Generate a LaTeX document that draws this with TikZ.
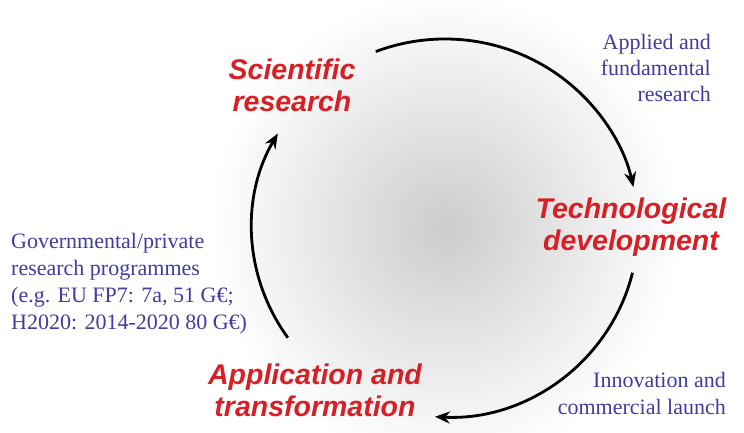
\documentclass[tikz,border=0pt]{standalone}
\usepackage{fontspec}
\setmainfont{Liberation Serif}
\setsansfont{Liberation Sans}
\usetikzlibrary{arrows.meta}
\definecolor{stagered}{RGB}{214,32,38}
\definecolor{noteblue}{RGB}{66,60,160}
\tikzset{
  stage/.style={text=stagered, font=\sffamily\bfseries\itshape\fontsize{28.5}{32}\selectfont, align=center, inner sep=0pt},
  note/.style={text=noteblue, font=\fontsize{22}{26}\selectfont, inner sep=0pt},
  cycle/.style={line width=2.8pt, -{Stealth[length=15pt, width=12pt]}}
}
\begin{document}
\begin{tikzpicture}[x=1pt,y=1pt]
  \useasboundingbox (0,0) rectangle (744,433);
  \fill[white] (0,0) rectangle (744,433);
  \coordinate (C) at (445,205);
  \begin{scope}
    \clip (0,0) rectangle (744,433);
    \shade[inner color=black!20, outer color=white] (C) circle (235pt);
  \end{scope}

  \node[stage] (sci) at (292,348) {Scientific\\research};
  \node[stage] (tech) at (631,206) {Technological\\development};
  \node[stage] (app) at (315,43) {Application and\\transformation};

  \node[note, anchor=east, align=right] (applied) at (711,365) {Applied and\\fundamental\\research};
  \node[note, anchor=west, align=left, font=\fontsize{22}{27}\selectfont] (gov) at (11,149) {Governmental/private\\research programmes\\(e.g. EU FP7: 7a, 51 G€;\\H2020: 2014-2020 80 G€)};
  \node[note, anchor=east, align=right, font=\fontsize{22}{27}\selectfont] (innov) at (726,40) {Innovation and\\commercial launch};

  \draw[cycle] (C) ++(111:193 and 189) arc[start angle=111, end angle=12.5, x radius=193, y radius=189];
  \draw[cycle] (C) ++(-13.7:193 and 189) arc[start angle=-13.7, end angle=-93, x radius=193, y radius=189];
  \draw[cycle] (C) ++(215.5:193 and 189) arc[start angle=215.5, end angle=150, x radius=193, y radius=189];
\end{tikzpicture}
\end{document}
